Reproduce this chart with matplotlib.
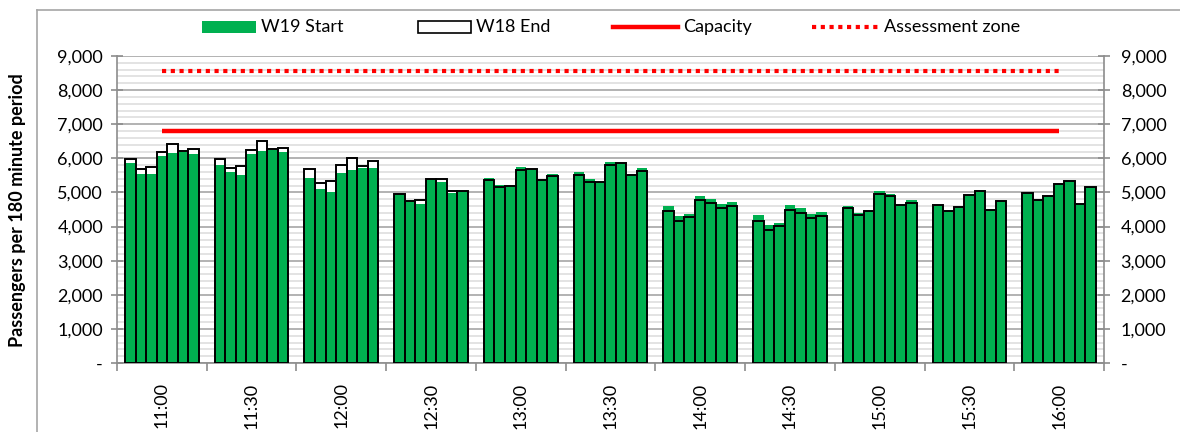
import numpy as np
import matplotlib
matplotlib.use('Agg')
import matplotlib.pyplot as plt
from matplotlib.lines import Line2D
from matplotlib.patches import Rectangle
from matplotlib.ticker import FuncFormatter, MultipleLocator, FixedLocator

# Données (7 barres par créneau de 30 min)
times = ["11:00", "11:30", "12:00", "12:30", "13:00", "13:30",
         "14:00", "14:30", "15:00", "15:30", "16:00"]
w19_start = [
    [5850, 5540, 5540, 6060, 6155, 6175, 6125],
    [5815, 5600, 5500, 6120, 6225, 6240, 6195],
    [5410, 5090, 5000, 5580, 5655, 5705, 5715],
    [4940, 4745, 4675, 5380, 5305, 4990, 5040],
    [5430, 5215, 5175, 5735, 5695, 5360, 5540],
    [5590, 5390, 5315, 5890, 5870, 5520, 5705],
    [4600, 4305, 4365, 4910, 4815, 4650, 4725],
    [4325, 4040, 4090, 4630, 4530, 4365, 4440],
    [4600, 4410, 4460, 5030, 4940, 4620, 4775],
    [4640, 4450, 4530, 4930, 5030, 4500, 4755],
    [4970, 4785, 4890, 5255, 5335, 4675, 5150],
]
w18_end = [
    [5980, 5675, 5735, 6195, 6430, 6215, 6265],
    [5990, 5725, 5765, 6255, 6500, 6270, 6305],
    [5675, 5285, 5325, 5795, 6020, 5785, 5920],
    [4940, 4745, 4765, 5380, 5400, 5040, 5040],
    [5365, 5165, 5175, 5665, 5695, 5355, 5480],
    [5520, 5315, 5315, 5815, 5855, 5520, 5630],
    [4450, 4165, 4285, 4765, 4705, 4540, 4590],
    [4175, 3895, 4010, 4480, 4400, 4255, 4315],
    [4540, 4335, 4460, 4960, 4900, 4620, 4700],
    [4640, 4450, 4580, 4930, 5030, 4500, 4755],
    [4970, 4785, 4890, 5255, 5335, 4675, 5150],
]
capacity = 6800
assessment = 8550

GREEN = '#00B050'
RED = '#FF0000'
AXIS_GREY = '#8c8c8c'
FONT = 'Lato'
plt.rcParams['font.family'] = [FONT, 'DejaVu Sans']

W, H = 1180, 432
fig = plt.figure(figsize=(W / 100, H / 100), dpi=100)
fig.patch.set_facecolor('white')
ax = fig.add_axes([117 / W, (H - 363) / H, (1104 - 117) / W, (363 - 56) / H])

# Barres : 7 par catégorie, centrées dans chaque case
n_bar = 7
bw = 0.1175
margin = (1 - n_bar * bw) / 2
start = np.array(w19_start)
end = np.array(w18_end)
lefts = np.arange(len(times))[:, None] + margin + np.arange(n_bar)[None, :] * bw
lefts = lefts.ravel()
ax.bar(lefts, end.ravel(), width=bw, align='edge', color='white', linewidth=0, zorder=2)
ax.bar(lefts, start.ravel(), width=bw, align='edge', color=GREEN, linewidth=0, zorder=3)
ax.bar(lefts, end.ravel(), width=bw, align='edge', fill=False, edgecolor='black', linewidth=1.4, zorder=4)

# Lignes capacité / zone d'évaluation
centers = np.arange(len(times)) + 0.5
ax.plot(centers, [capacity] * len(times), color=RED, linewidth=3.2, solid_capstyle='butt', zorder=5)
ax.plot(centers, [assessment] * len(times), color=RED, linewidth=3.0, linestyle=(0, (1, 1.1)), zorder=5)

# Axes
ax.set_xlim(0, len(times))
ax.set_ylim(0, 9000)
ax.yaxis.set_major_locator(MultipleLocator(1000))
ax.yaxis.set_minor_locator(MultipleLocator(200))
fmt = FuncFormatter(lambda v, p: '-' if v == 0 else f'{int(v):,}')
ax.yaxis.set_major_formatter(fmt)
ax.set_axisbelow(True)
ax.grid(True, which='major', axis='y', color='#a6a6a6', linewidth=1.2, zorder=0)
ax.grid(True, which='minor', axis='y', color='#dedede', linewidth=1.2, zorder=0)

ax.xaxis.set_major_locator(FixedLocator(centers))
ax.set_xticklabels(times, rotation=90, fontsize=13, family=FONT)
ax.xaxis.set_minor_locator(FixedLocator(np.arange(len(times) + 1)))
ax.tick_params(axis='x', which='major', length=0, pad=14)
ax.tick_params(axis='x', which='minor', length=6, color=AXIS_GREY, width=1.2)
ax.tick_params(axis='y', which='major', direction='inout', length=8, color=AXIS_GREY, width=1.2,
               labelsize=13, pad=6)
ax.tick_params(axis='y', which='minor', length=0)

for s in ['left', 'right', 'bottom']:
    ax.spines[s].set_color(AXIS_GREY)
    ax.spines[s].set_linewidth(1.2)
ax.spines['top'].set_visible(False)

ax2 = ax.twinx()
ax2.set_ylim(0, 9000)
ax2.yaxis.set_major_locator(MultipleLocator(1000))
ax2.yaxis.set_major_formatter(fmt)
ax2.tick_params(axis='y', direction='inout', length=8, color=AXIS_GREY, width=1.2, labelsize=13, pad=8)
for s in ax2.spines.values():
    s.set_visible(False)

fig.text(18 / W, 1 - 210 / H, 'Passengers per 180 minute period', rotation=90, fontsize=13,
         fontweight='bold', ha='center', va='center')

# Cadre de la zone graphique
fig.add_artist(Line2D([37 / W, 37 / W], [0, 1 - 10 / H], color='#a6a6a6', linewidth=1.2))
fig.add_artist(Line2D([37 / W, 1], [1 - 10 / H, 1 - 10 / H], color='#a6a6a6', linewidth=1.2))

# Légende manuelle
ly = 1 - 27 / H
def fx(px): return px / W
fig.add_artist(Rectangle((fx(202), 1 - 33 / H), 54 / W, 12 / H, facecolor=GREEN, edgecolor='none'))
fig.text(fx(261), ly, 'W19 Start', fontsize=13, va='center')
fig.add_artist(Rectangle((fx(418), 1 - 33 / H), 53 / W, 12 / H, facecolor='white', edgecolor='black', linewidth=1.2))
fig.text(fx(476), ly, 'W18 End', fontsize=13, va='center')
fig.add_artist(Line2D([fx(613), fx(678)], [ly, ly], color=RED, linewidth=3.2))
fig.text(fx(683), ly, 'Capacity', fontsize=13, va='center')
fig.add_artist(Line2D([fx(812), fx(878)], [ly, ly], color=RED, linewidth=3.0, linestyle=(0, (1, 1.1))))
fig.text(fx(884), ly, 'Assessment zone', fontsize=13, va='center')

fig.savefig('out.png', dpi=100)
